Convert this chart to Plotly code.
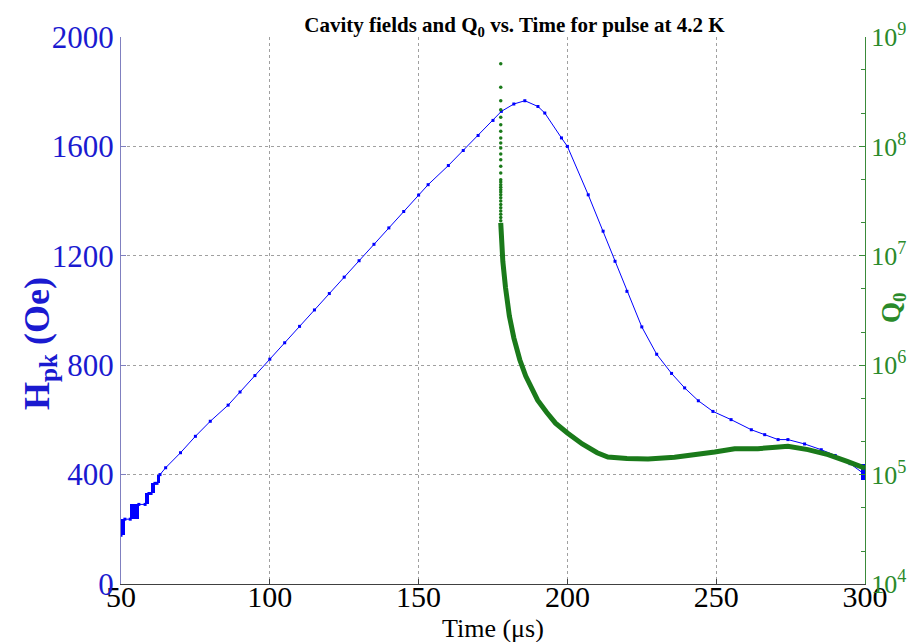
import plotly.graph_objects as go

# ---- data ----
x_ticks = [50, 100, 150, 200, 250, 300]
h_ticks = [0, 400, 800, 1200, 1600, 2000]
q_tick_exp = [4, 5, 6, 7, 8, 9]

# H_pk main trace (time in us, field in Oe)
t_H = [50, 51.3, 53.1, 56.0, 58.1, 59.4, 60.1, 61.4, 62.1, 63.1, 65, 70, 75, 80, 86, 90,
       95, 100, 105, 110, 115, 120, 125, 130, 135, 140, 145, 150, 153.2, 160, 165, 170,
       175, 177.8, 182, 185.7, 190.1, 192.4, 198, 200, 207, 212, 216, 220, 225, 230,
       235, 239.4, 244, 248.9, 255, 261.8, 266.3, 270.8, 274.1, 279.7, 285.3, 290, 295, 300]
H = [178, 237, 237, 291, 291, 331, 331, 368, 368, 400, 425, 480, 540, 595, 654, 702,
     762, 822, 882, 942, 1002, 1062, 1122, 1182, 1242, 1302, 1362, 1422, 1460, 1530, 1585, 1640,
     1695, 1728, 1755, 1767, 1746, 1722, 1631, 1600, 1423, 1290, 1180, 1070, 940, 840,
     770, 717, 670, 631, 601, 564, 546, 528, 528, 512, 491, 470, 440, 400]

# dense blocks in the H trace (centre time, width, low, high)
blk_t = [50.6, 54.5, 58.7, 60.7, 62.6, 299.3]
blk_w = [1.3, 3.0, 1.3, 1.3, 1.0, 1.2]
blk_lo = [178, 237, 291, 331, 368, 380]
blk_hi = [237, 291, 331, 368, 400, 440]

# Q0 : sparse dots on the vertical part (log10 values) at t = 177.6 us
qd_log = [8.756, 8.54, 8.418, 8.335, 8.266, 8.198, 8.138, 8.077, 8.031, 7.985, 7.93,
          7.878, 7.818, 7.757, 7.696, 7.675, 7.65, 7.626, 7.604, 7.583, 7.559,
          7.53, 7.50, 7.47, 7.44, 7.41, 7.38, 7.35, 7.32]
qd_t = [177.6] * len(qd_log)

# Q0 : dense part (log10 values)
ql_t = [177.6, 177.8, 178.3, 179.2, 180.5, 182, 184, 186, 188, 190, 193, 196, 200,
        205, 210, 213.6, 220, 227.1, 236, 243, 249.5, 256.2, 264, 270, 274.1, 280.8,
        287.6, 294, 300]
ql_log = [7.30, 7.15, 6.95, 6.71, 6.45, 6.25, 6.05, 5.9, 5.78, 5.68, 5.57, 5.47,
          5.38, 5.28, 5.2, 5.161, 5.148, 5.143, 5.158, 5.18, 5.207, 5.237, 5.237, 5.25,
          5.259, 5.228, 5.182, 5.12, 5.06]

BLUE = "#0000ff"
TBLUE = "#1a1ad0"
GREEN = "#1a7a1a"
TGREEN = "#2a8a2a"
SERIF = "Liberation Serif, Times New Roman, serif"

L, R, T, B = 113, 857, 29, 576

fig = go.Figure()

fig.add_trace(go.Bar(x=blk_t, y=[h - l for h, l in zip(blk_hi, blk_lo)], base=blk_lo,
                     width=blk_w, marker=dict(color=BLUE, line=dict(width=0)),
                     showlegend=False, hoverinfo="skip"))
fig.add_trace(go.Scatter(x=t_H, y=H, mode="lines+markers",
                         line=dict(color=BLUE, width=1),
                         marker=dict(symbol="square", size=3, color=BLUE),
                         showlegend=False))
fig.add_trace(go.Scatter(x=ql_t, y=[10 ** v for v in ql_log], mode="lines",
                         line=dict(color=GREEN, width=5), yaxis="y2",
                         showlegend=False))
fig.add_trace(go.Scatter(x=qd_t, y=[10 ** v for v in qd_log], mode="markers",
                         marker=dict(color=GREEN, size=3.5), yaxis="y2",
                         showlegend=False))

fig.update_layout(
    width=917, height=642,
    margin=dict(l=L, r=917 - R, t=T, b=642 - B),
    paper_bgcolor="white", plot_bgcolor="white",
    barmode="overlay", bargap=0,
    showlegend=False,
    font=dict(family=SERIF),
    title=dict(text="<b>Cavity fields and Q<sub>0</sub> vs. Time for pulse at 4.2 K</b>",
               x=(L + R) / 2 / 917, xanchor="center", y=1 - 17 / 642, yanchor="middle",
               xref="paper", yref="container",
               font=dict(family=SERIF, size=21, color="black")),
    xaxis=dict(range=[50, 300], tickvals=x_ticks, ticktext=[str(v) for v in x_ticks],
               showgrid=True, gridcolor="#a0a0a0", griddash="dot", gridwidth=1,
               zeroline=False, showline=True, linecolor="#404040", linewidth=1,
               ticks="inside", ticklen=5, tickcolor="#404040",
               ticklabelstandoff=-14,
               tickfont=dict(family=SERIF, size=30, color="black")),
    yaxis=dict(range=[0, 2000], tickvals=h_ticks, ticktext=[str(v) for v in h_ticks],
               showgrid=True, gridcolor="#a0a0a0", griddash="dot", gridwidth=1,
               zeroline=False, showline=True, linecolor="#8080c0", linewidth=1,
               ticks="inside", ticklen=5, tickcolor="#8080c0",
               tickfont=dict(family=SERIF, size=31, color=TBLUE)),
    yaxis2=dict(type="log", range=[4, 9], overlaying="y", side="right",
                tickvals=[10 ** e for e in q_tick_exp],
                ticktext=["10<sup>%d</sup>" % e for e in q_tick_exp],
                showgrid=False, zeroline=False, showline=True, linecolor="#3a8a3a",
                linewidth=1, ticks="inside", ticklen=6, tickcolor="#3a8a3a",
                minor=dict(ticks="inside", ticklen=4, tickcolor="#3a8a3a", showgrid=False),
                tickfont=dict(family=SERIF, size=26, color=TGREEN)),
)

def px_x(p):
    return (p - L) / (R - L)

def px_y(p):
    return (B - p) / (B - T)

fig.add_annotation(text="<b>H<sub>pk</sub> (Oe)</b>", textangle=-90,
                   x=px_x(31), y=px_y(336), xref="x domain", yref="y domain",
                   xanchor="center", yanchor="middle",
                   showarrow=False, font=dict(family=SERIF, size=36, color=TBLUE))
fig.add_annotation(text="<b>Q<sub>0</sub></b>", textangle=-90,
                   x=px_x(885), y=px_y(300), xref="x domain", yref="y domain",
                   xanchor="center", yanchor="middle",
                   showarrow=False, font=dict(family=SERIF, size=27, color=TGREEN))
fig.add_annotation(text="Time (μs)",
                   x=px_x((L + R) / 2), y=px_y(620), xref="x domain", yref="y domain",
                   xanchor="center", yanchor="middle",
                   showarrow=False, font=dict(family=SERIF, size=26, color="black"))

fig.write_html("out.html")
